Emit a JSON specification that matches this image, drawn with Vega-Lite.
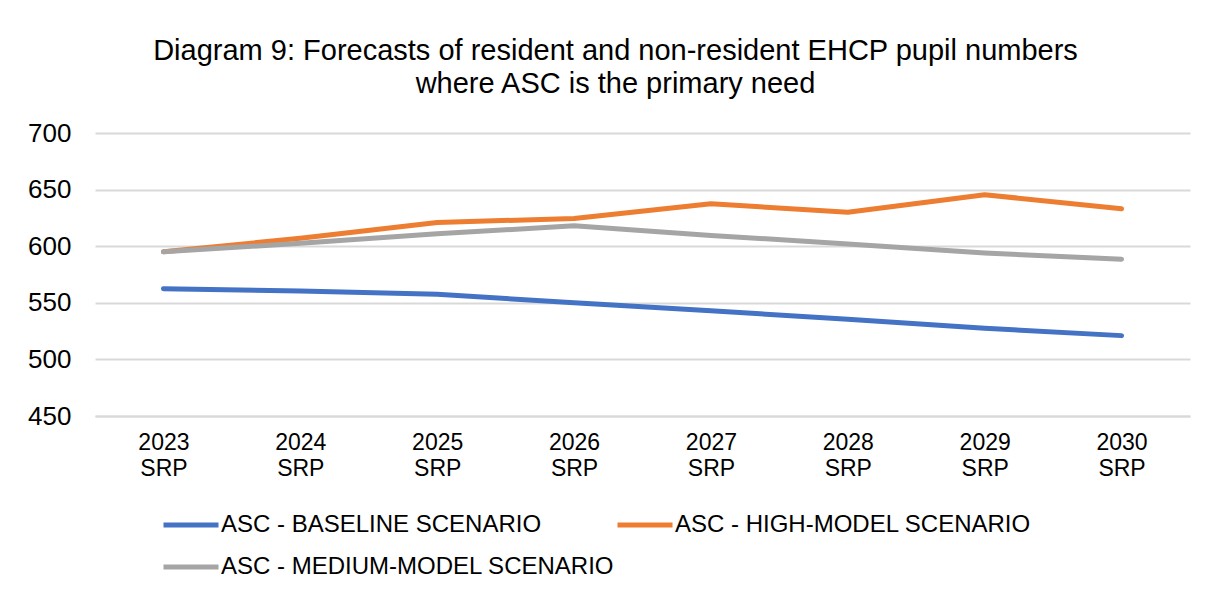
{
  "$schema": "https://vega.github.io/schema/vega-lite/v6.json",
  "autosize": {"type": "none"},
  "width": 1095,
  "height": 283,
  "padding": {"left": 95, "top": 133, "right": 17, "bottom": 176},
  "background": "white",
  "title": {
    "text": ["Diagram 9: Forecasts of resident and non-resident EHCP pupil numbers", "where ASC is the primary need"],
    "font": "Liberation Sans",
    "fontSize": 29,
    "fontWeight": "normal",
    "color": "#000000",
    "lineHeight": 33,
    "anchor": "middle",
    "frame": "group",
    "dx": -27,
    "offset": 21
  },
  "data": {
    "values": [
      {"year": "2023 SRP", "scenario": "ASC - BASELINE SCENARIO", "value": 562.5},
      {"year": "2024 SRP", "scenario": "ASC - BASELINE SCENARIO", "value": 560.5},
      {"year": "2025 SRP", "scenario": "ASC - BASELINE SCENARIO", "value": 557.5},
      {"year": "2026 SRP", "scenario": "ASC - BASELINE SCENARIO", "value": 550},
      {"year": "2027 SRP", "scenario": "ASC - BASELINE SCENARIO", "value": 543},
      {"year": "2028 SRP", "scenario": "ASC - BASELINE SCENARIO", "value": 535.5},
      {"year": "2029 SRP", "scenario": "ASC - BASELINE SCENARIO", "value": 527.5},
      {"year": "2030 SRP", "scenario": "ASC - BASELINE SCENARIO", "value": 521},
      {"year": "2023 SRP", "scenario": "ASC - HIGH-MODEL SCENARIO", "value": 595},
      {"year": "2024 SRP", "scenario": "ASC - HIGH-MODEL SCENARIO", "value": 607},
      {"year": "2025 SRP", "scenario": "ASC - HIGH-MODEL SCENARIO", "value": 621},
      {"year": "2026 SRP", "scenario": "ASC - HIGH-MODEL SCENARIO", "value": 624.5},
      {"year": "2027 SRP", "scenario": "ASC - HIGH-MODEL SCENARIO", "value": 637.5},
      {"year": "2028 SRP", "scenario": "ASC - HIGH-MODEL SCENARIO", "value": 630},
      {"year": "2029 SRP", "scenario": "ASC - HIGH-MODEL SCENARIO", "value": 645.5},
      {"year": "2030 SRP", "scenario": "ASC - HIGH-MODEL SCENARIO", "value": 633},
      {"year": "2023 SRP", "scenario": "ASC - MEDIUM-MODEL SCENARIO", "value": 595},
      {"year": "2024 SRP", "scenario": "ASC - MEDIUM-MODEL SCENARIO", "value": 602.5},
      {"year": "2025 SRP", "scenario": "ASC - MEDIUM-MODEL SCENARIO", "value": 611},
      {"year": "2026 SRP", "scenario": "ASC - MEDIUM-MODEL SCENARIO", "value": 618},
      {"year": "2027 SRP", "scenario": "ASC - MEDIUM-MODEL SCENARIO", "value": 609.5},
      {"year": "2028 SRP", "scenario": "ASC - MEDIUM-MODEL SCENARIO", "value": 602},
      {"year": "2029 SRP", "scenario": "ASC - MEDIUM-MODEL SCENARIO", "value": 594},
      {"year": "2030 SRP", "scenario": "ASC - MEDIUM-MODEL SCENARIO", "value": 588.5}
    ]
  },
  "mark": {"type": "line", "strokeWidth": 5, "strokeCap": "round", "strokeJoin": "round"},
  "encoding": {
    "x": {
      "field": "year",
      "type": "ordinal",
      "scale": {"type": "point", "padding": 0.5},
      "axis": {
        "title": null,
        "labelAngle": 0,
        "labelExpr": "split(datum.label, ' ')",
        "labelFont": "Liberation Sans",
        "labelFontSize": 23,
        "labelColor": "#000000",
        "labelLineHeight": 26,
        "labelPadding": 15,
        "ticks": false,
        "domain": true,
        "domainColor": "#d9d9d9",
        "domainWidth": 2,
        "grid": false
      }
    },
    "y": {
      "field": "value",
      "type": "quantitative",
      "scale": {"domain": [450, 700], "nice": false, "zero": false},
      "axis": {
        "title": null,
        "values": [450, 500, 550, 600, 650, 700],
        "labelFont": "Liberation Sans",
        "labelFontSize": 26,
        "labelColor": "#000000",
        "labelPadding": 24,
        "ticks": false,
        "domain": false,
        "grid": true,
        "gridColor": "#d9d9d9",
        "gridWidth": 2
      }
    },
    "color": {
      "field": "scenario",
      "type": "nominal",
      "scale": {
        "domain": ["ASC - BASELINE SCENARIO", "ASC - MEDIUM-MODEL SCENARIO", "ASC - HIGH-MODEL SCENARIO"],
        "range": ["#4472C4", "#A5A5A5", "#ED7D31"]
      },
      "legend": {
        "title": null,
        "orient": "none",
        "legendX": 66,
        "legendY": 362,
        "columns": 2,
        "columnPadding": -9,
        "rowPadding": 0,
        "symbolType": "stroke",
        "symbolSize": 3025,
        "symbolStrokeWidth": 5,
        "labelFont": "Liberation Sans",
        "labelFontSize": 24,
        "labelColor": "#000000",
        "labelOffset": 0,
        "labelLimit": 600
      }
    }
  },
  "config": {"view": {"stroke": null}}
}
